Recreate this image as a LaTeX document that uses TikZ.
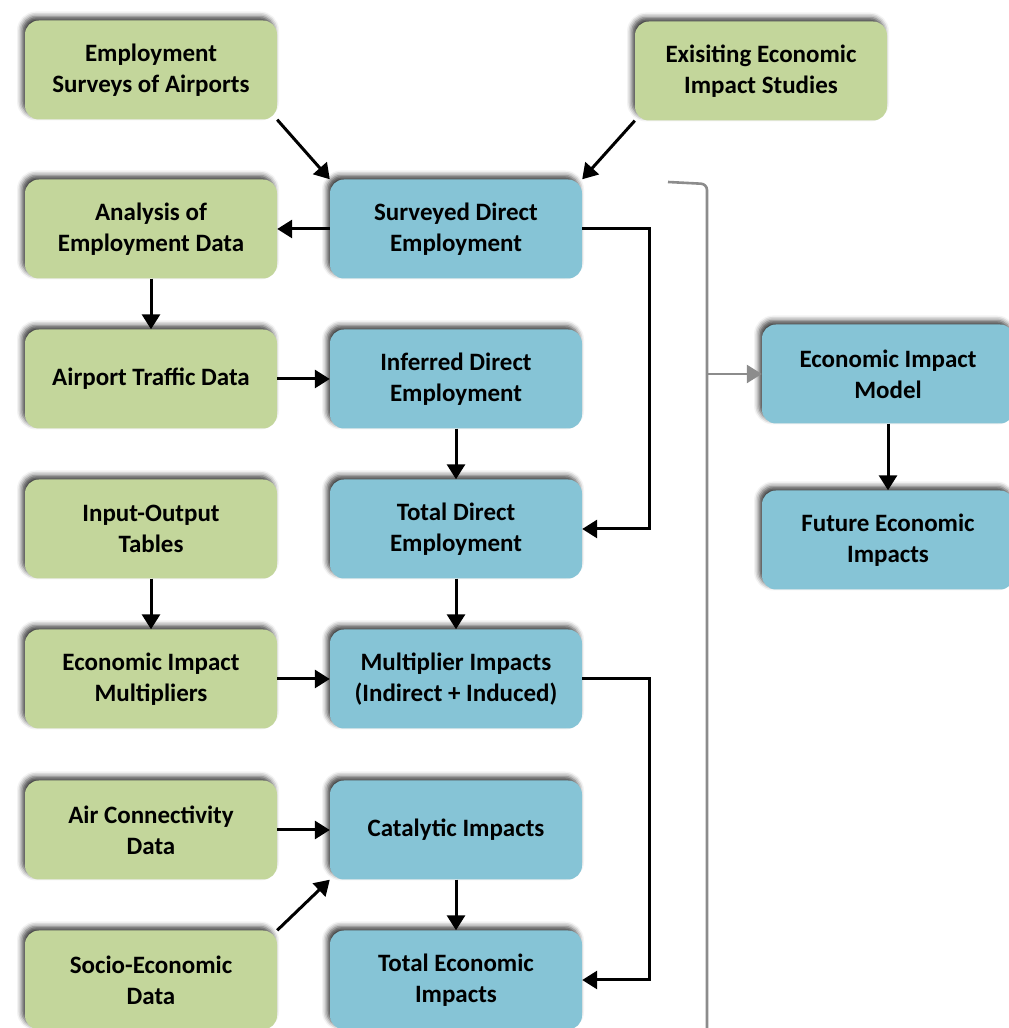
\documentclass[tikz,border=0pt]{standalone}
\usepackage{fontspec}
\setmainfont{Carlito}
\usetikzlibrary{positioning,arrows.meta,shadows.blur}
\definecolor{srcgreen}{RGB}{195,214,155}
\definecolor{resblue}{RGB}{134,196,214}
\tikzstyle{flow}=[x=1pt,y=1pt,node distance=150pt,on grid,font=\bfseries\fontsize{25}{31}\selectfont]
\tikzstyle{box}=[rounded corners=14pt,minimum width=252pt,minimum height=99pt,align=center,inner sep=4pt,
  blur shadow={shadow xshift=-3pt,shadow yshift=4pt,shadow blur radius=5pt,shadow opacity=75}]
\tikzstyle{src}=[box,fill=srcgreen]
\tikzstyle{res}=[box,fill=resblue]
\tikzstyle{link}=[line width=3pt,-{Triangle[length=15pt,width=18pt]}]
\tikzstyle{bracket}=[line width=2.6pt,draw=black!45]

\begin{document}
\begin{tikzpicture}[flow]
  \useasboundingbox (0,0) rectangle (1009,1028);
  % left column: data sources, middle column: impacts
  \node[src] (emps)  at (151,958)       {Employment\\Surveys of Airports};
  \node[res] (surv)  at (456,799)       {Surveyed Direct\\Employment};
  \node[src] (anal)  [left=305 of surv]  {Analysis of\\Employment Data};
  \node[src] (traf)  [below=150 of anal] {Airport Traffic Data};
  \node[res] (inf)   [right=305 of traf] {Inferred Direct\\Employment};
  \node[res] (tdir)  [below=150 of inf]  {Total Direct\\Employment};
  \node[src] (iot)   [left=305 of tdir]  {Input-Output\\Tables};
  \node[src] (mult)  [below=150 of iot]  {Economic Impact\\Multipliers};
  \node[res] (mimp)  [right=305 of mult] {Multiplier Impacts\\(Indirect + Induced)};
  \node[res] (cat)   [below=151 of mimp] {Catalytic Impacts};
  \node[src] (air)   [left=305 of cat]   {Air Connectivity\\Data};
  \node[src] (socio) [below=150 of air]  {Socio-Economic\\Data};
  \node[res] (totec) [right=305 of socio] {Total Economic\\Impacts};
  \node[src] (exist) at (761,957)       {Exisiting Economic\\Impact Studies};
  % right column: model
  \node[res] (model) at (888,654)       {Economic Impact\\Model};
  \node[res] (fut)   [below=166 of model] {Future Economic\\Impacts};
%
  \coordinate (btop) at (668,846);
  \coordinate (bmid) at (707,654);
  \draw[bracket,rounded corners=6pt] (btop) -- (707,844) -- (707,-10);
  \draw[bracket,-{Triangle[length=15pt,width=18pt]}] (bmid) -- (model);
%
  \draw[link] (emps.south east) -- (surv.north west);
  \draw[link] (exist.south west) -- (surv.north east);
  \draw[link] (surv) -- (anal);
  \draw[link] (anal) -- (traf);
  \draw[link] (traf) -- (inf);
  \draw[link] (inf) -- (tdir);
  \draw[link] (surv.east) -- ++(67,0) |- (tdir.east);
  \draw[link] (iot) -- (mult);
  \draw[link] (mult) -- (mimp);
  \draw[link] (tdir) -- (mimp);
  \draw[link] (mimp.east) -- ++(67,0) |- (totec.east);
  \draw[link] (air) -- (cat);
  \draw[link] (socio.north east) -- (cat.south west);
  \draw[link] (cat) -- (totec);
  \draw[link] (model) -- (fut);
\end{tikzpicture}
\end{document}
